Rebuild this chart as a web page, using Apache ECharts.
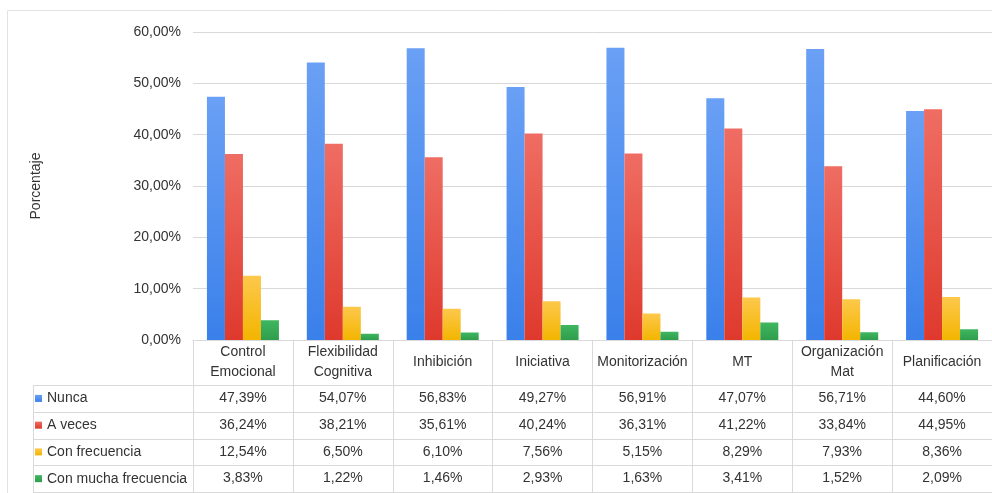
<!DOCTYPE html>
<html><head><meta charset="utf-8">
<script src="https://cdn.jsdelivr.net/npm/echarts@6/dist/echarts.min.js"></script>
<style>html,body{margin:0;padding:0;background:#fff}#c{width:992px;height:493px}</style>
</head><body><div id="c"></div>
<script>
const categories = ['Control\nEmocional', 'Flexibilidad\nCognitiva', 'Inhibición', 'Iniciativa', 'Monitorización', 'MT', 'Organización\nMat', 'Planificación'];
const seriesNames = ['Nunca', 'A veces', 'Con frecuencia', 'Con mucha frecuencia'];
const nunca = [47.39, 54.07, 56.83, 49.27, 56.91, 47.07, 56.71, 44.60];
const aVeces = [36.24, 38.21, 35.61, 40.24, 36.31, 41.22, 33.84, 44.95];
const conFrecuencia = [12.54, 6.50, 6.10, 7.56, 5.15, 8.29, 7.93, 8.36];
const conMuchaFrecuencia = [3.83, 1.22, 1.46, 2.93, 1.63, 3.41, 1.52, 2.09];
const yTicks = [0, 10, 20, 30, 40, 50, 60];
const yAxisTitle = 'Porcentaje';

const seriesData = [nunca, aVeces, conFrecuencia, conMuchaFrecuencia];
const gradients = [['#6aa0f5', '#3a80ea'], ['#ef6d63', '#df392d'], ['#fdc84c', '#f3b500'], ['#3fb660', '#2f9e4c']];
const FONT = 'Liberation Sans, Arial, sans-serif';
const TXT = '#333333';
const LINE = '#d9d9d9';
const fmt = v => v.toFixed(2).replace('.', ',') + '%';

const chart = echarts.init(document.getElementById('c'));
const gridLeft = 193, gridTop = 32, gridW = 806, gridH = 308;
const tableLeft = 33;
const rowTop = 385, rowH = 26.75;

chart.setOption({
  animation: false,
  textStyle: { fontFamily: FONT },
  grid: { left: gridLeft, top: gridTop, width: gridW, height: gridH },
  legend: {
    orient: 'vertical', left: 35, top: rowTop + 3.4, padding: 0, height: 120,
    itemWidth: 7, itemHeight: 7, itemGap: 6.75,
    icon: 'rect',
    textStyle: { fontFamily: FONT, fontSize: 14, color: TXT, lineHeight: 20 },
    data: seriesNames
  },
  xAxis: {
    type: 'category', data: categories,
    axisLine: { show: true, lineStyle: { color: LINE } },
    axisTick: { show: true, length: 152, interval: 0, lineStyle: { color: LINE } },
    axisLabel: { interval: 0, margin: 22, verticalAlign: 'middle', fontSize: 14, lineHeight: 20, color: TXT, fontFamily: FONT }
  },
  yAxis: {
    type: 'value', min: yTicks[0], max: yTicks[yTicks.length - 1], interval: 10,
    name: yAxisTitle, nameLocation: 'middle', nameGap: 150, nameRotate: 90,
    nameTextStyle: { fontSize: 14, color: TXT, fontFamily: FONT },
    axisLine: { show: false }, axisTick: { show: false },
    splitLine: { lineStyle: { color: LINE } },
    axisLabel: { margin: 12, fontSize: 14, color: TXT, fontFamily: FONT, formatter: v => v.toFixed(2).replace('.', ',') + '%' }
  },
  series: seriesNames.map((n, i) => ({
    name: n, type: 'bar', data: seriesData[i], barWidth: 18, barGap: '0%',
    itemStyle: { color: new echarts.graphic.LinearGradient(0, 0, 0, 1, [{ offset: 0, color: gradients[i][0] }, { offset: 1, color: gradients[i][1] }]) }
  }))
});

// table drawn from data arrays
const elements = [];
const right = gridLeft + gridW;
elements.push({ type: 'rect', shape: { x: 7.5, y: 10.5, width: 1100, height: 600 }, style: { fill: 'none', stroke: '#e3e3e3', lineWidth: 1 }, silent: true });
for (let r = 0; r <= seriesNames.length; r++) {
  const y = Math.round(rowTop + r * rowH) + 0.5;
  elements.push({ type: 'line', shape: { x1: tableLeft, y1: y, x2: right, y2: y }, style: { stroke: LINE, lineWidth: 1 }, silent: true });
}
elements.push({ type: 'line', shape: { x1: tableLeft + 0.5, y1: rowTop, x2: tableLeft + 0.5, y2: rowTop + rowH * 4 }, style: { stroke: LINE, lineWidth: 1 }, silent: true });
seriesData.forEach((arr, r) => {
  arr.forEach((v, c) => {
    const x = chart.convertToPixel({ xAxisIndex: 0 }, c);
    elements.push({ type: 'text', x: x, y: rowTop + (r + 0.5) * rowH, silent: true,
      style: { text: fmt(v), fontSize: 14, fontFamily: FONT, fill: TXT, align: 'center', verticalAlign: 'middle' } });
  });
});
chart.setOption({ graphic: elements });
</script>
</body></html>
